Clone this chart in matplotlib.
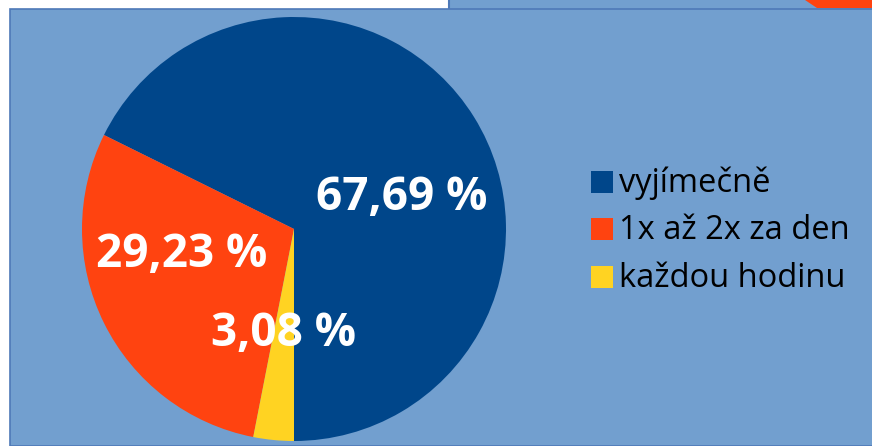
import matplotlib
matplotlib.use("Agg")
import matplotlib.pyplot as plt
from matplotlib.patches import Rectangle, Polygon

# data
categories = ["vyjímečně", "1x až 2x za den", "každou hodinu"]
shares = [67.69, 29.23, 3.08]
colors = ["#00468A", "#FF4310", "#FFD322"]

W, H = 872, 446
BG = "#729FCF"
EDGE = "#4E79B8"

plt.rcParams['font.family'] = ['Open Sans', 'DejaVu Sans']

fig = plt.figure(figsize=(W / 100, H / 100), dpi=100)
fig.patch.set_facecolor("white")


def fx(x):
    return x / W


def fy(y):
    return 1 - y / H


# slide pieces at the top
fig.patches.append(Rectangle((fx(448), fy(9)), fx(W - 448), 9 / H, transform=fig.transFigure,
                             facecolor=BG, edgecolor="none", zorder=0))
fig.lines.append(plt.Line2D([fx(448.5), fx(448.5)], [fy(0), fy(9)], transform=fig.transFigure,
                            color=EDGE, lw=1.5))
fig.patches.append(Polygon([(fx(805), fy(0)), (fx(W), fy(0)), (fx(W), fy(8)), (fx(817), fy(8))],
                           closed=True, transform=fig.transFigure, facecolor="#FF4310",
                           edgecolor="none", zorder=1))
# main panel
fig.patches.append(Rectangle((fx(9.5), 0), fx(W), fy(8.5), transform=fig.transFigure,
                             facecolor=BG, edgecolor=EDGE, lw=1.2, zorder=2))

# pie
cx, cy, r = 294, 229, 212
ax = fig.add_axes([fx(cx - r), fy(cy + r), 2 * r / W, 2 * r / H], zorder=3)
ax.pie(shares, colors=colors, startangle=-90, counterclock=True, radius=1,
       wedgeprops=dict(linewidth=0))
ax.set_aspect("auto")
ax.set_xlim(-1, 1)
ax.set_ylim(-1, 1)
ax.axis("off")

# percentage labels (x centre, baseline)
label_pos = [(402, 210), (182, 267), (283, 346)]
for val, (x, y) in zip(shares, label_pos):
    fig.text(fx(x), fy(y), f"{val:.2f} %".replace(".", ","), color="white",
             fontsize=33, fontweight="bold", ha="center", va="baseline", zorder=5)

# legend
legend_base = [192, 239, 287]
for name, col, y in zip(categories, colors, legend_base):
    fig.patches.append(Rectangle((fx(591), fy(y + 1)), 22 / W, 22 / H, transform=fig.transFigure,
                                 facecolor=col, edgecolor="none", zorder=4))
    fig.text(fx(619), fy(y), name, color="black", fontsize=23.5, ha="left", va="baseline", zorder=5)

fig.savefig("out.png", dpi=100, facecolor=fig.get_facecolor())
